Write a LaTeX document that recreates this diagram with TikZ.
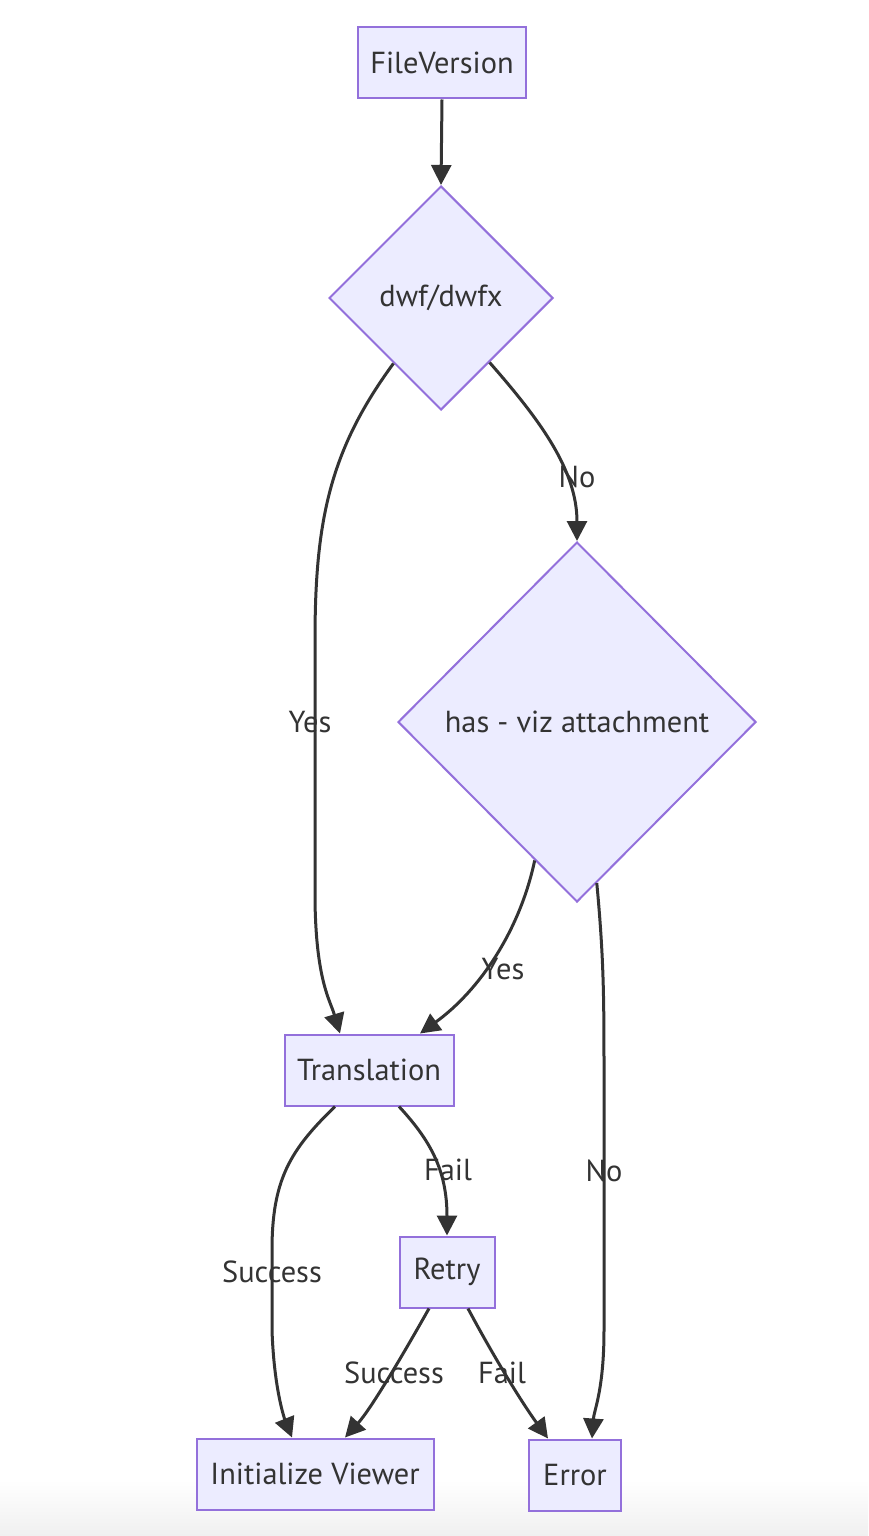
\documentclass[tikz,border=0pt]{standalone}
\usepackage{fontspec}
\setmainfont{PT Sans}
\usetikzlibrary{shapes.geometric, arrows.meta, calc}

\definecolor{boxfill}{HTML}{ECECFF}
\definecolor{boxline}{HTML}{9370DB}
\definecolor{ink}{HTML}{333333}

\tikzset{
    box/.style={draw=boxline, fill=boxfill, line width=1pt, minimum height=35.5pt, inner sep=0pt, text=ink, font=\fontsize{15.2}{17}\selectfont},
    decision/.style={diamond, draw=boxline, fill=boxfill, line width=1pt, inner sep=0pt, text=ink, font=\fontsize{15.2}{17}\selectfont},
    flow/.style={draw=ink, line width=1.5pt, -{Triangle[length=10pt, width=10pt]}},
    lbl/.style={text=ink, font=\fontsize{15.2}{17}\selectfont}
}

\begin{document}
\begin{tikzpicture}[x=0.5pt, y=-0.5pt]
    \useasboundingbox (0,0) rectangle (868,1536);
    % Background fade at the bottom
    \shade[top color=white, bottom color=black!6] (0,1480) rectangle (868,1536);

    % Draw nodes
    \node[box, minimum width=84pt] (fv) at (442,63) {FileVersion};
    \node[decision, minimum width=112pt, minimum height=112pt] (dwf) at (441,298) {dwf/dwfx};
    \node[decision, minimum width=179pt, minimum height=180pt] (hv) at (577,722) {has - viz attachment};
    \node[box, minimum width=84.5pt] (tr) at (369,1070) {Translation};
    \node[box, minimum width=47.5pt] (retry) at (447,1272) {Retry};
    \node[box, minimum width=118.5pt] (init) at (315,1474) {Initialize Viewer};
    \node[box, minimum width=46pt] (err) at (575,1475) {Error};

    % Draw connectors
    \draw[flow] (fv.south) -- (dwf.north);
    \draw[flow] (dwf.234) .. controls (330,450) and (315,520) .. (315,640) -- (315,900) .. controls (316,980) and (330,1000) .. ($(tr.north)+(-29,0)$);
    \draw[flow] (dwf.307) .. controls (540,420) and (577,470) .. (hv.north);
    \draw[flow] (hv.253) .. controls (520,930) and (480,990) .. ($(tr.north)+(51,0)$);
    \draw[flow] (hv.277) .. controls (604,960) and (604,1000) .. (604,1080) -- (604,1330) .. controls (604,1390) and (594,1410) .. ($(err.north)+(17,0)$);
    \draw[flow] ($(tr.south)+(-34,0)$) .. controls (290,1150) and (272,1180) .. (272,1250) -- (272,1330) .. controls (274,1390) and (285,1420) .. ($(init.north)+(-23,0)$);
    \draw[flow] ($(tr.south)+(30,0)$) .. controls (430,1140) and (447,1170) .. (retry.north);
    \draw[flow] ($(retry.south)+(-18,0)$) .. controls (400,1360) and (370,1410) .. ($(init.north)+(30,0)$);
    \draw[flow] ($(retry.south)+(21,0)$) .. controls (490,1350) and (520,1400) .. ($(err.north)+(-27,0)$);

    % Add connector labels
    \node[lbl] at (310,722) {Yes};
    \node[lbl] at (577,477) {No};
    \node[lbl] at (503,969) {Yes};
    \node[lbl] at (604,1171) {No};
    \node[lbl] at (272,1272) {Success};
    \node[lbl] at (448,1170) {Fail};
    \node[lbl] at (394,1373) {Success};
    \node[lbl] at (502,1373) {Fail};
\end{tikzpicture}
\end{document}
